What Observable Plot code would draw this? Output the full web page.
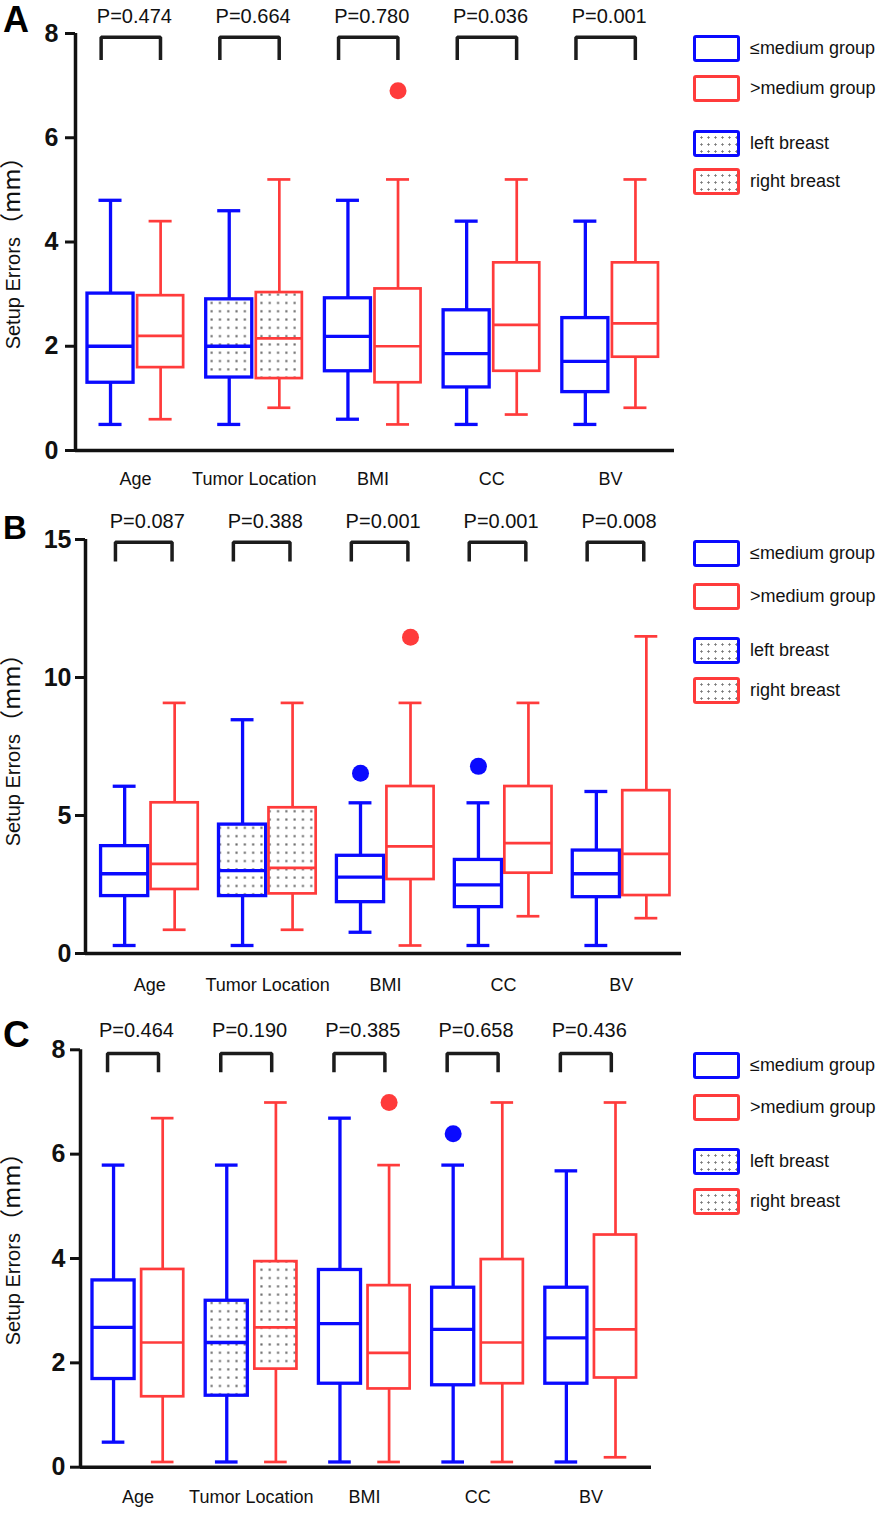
<!DOCTYPE html>
<html><head><meta charset="utf-8">
<script src="https://cdn.jsdelivr.net/npm/d3@7"></script>
<script src="https://cdn.jsdelivr.net/npm/@observablehq/plot@0.6"></script>
<style>
body{margin:0;background:#fff;font-family:"Liberation Sans",Arial,sans-serif;color:#111;}
#root{position:relative;width:896px;height:1513px;overflow:hidden;}
.panel{position:absolute;left:0;width:896px;}
.panel svg.plt{position:absolute;left:0;top:0;overflow:visible}
.legend{position:absolute;left:693px;top:0;}
.lg{position:absolute;left:0;width:47px;height:27px;box-sizing:border-box;border-radius:3px;background:#fff}
.lt{position:absolute;left:57px;height:27px;line-height:27px;font-size:18px;white-space:nowrap;}
</style>
</head><body>
<svg width="0" height="0" style="position:absolute">
  <defs>
    <pattern id="dots" patternUnits="userSpaceOnUse" width="8.3" height="8.3">
      <rect width="8.3" height="8.3" fill="#fff"/>
      <rect x="3.1" y="3.1" width="2.1" height="2.1" fill="#666"/>
    </pattern>
  </defs>
</svg>
<div id="root"></div>
<script>
// ---------- data ----------
const categories = ["Age", "Tumor Location", "BMI", "CC", "BV"];
const groupLegend = ["≤medium group", ">medium group"];
const locationLegend = ["left breast", "right breast"];

// each entry: [min, Q1, median, Q3, max]
const pValuesA = ["P=0.474", "P=0.664", "P=0.780", "P=0.036", "P=0.001"];
const lowA  = [[0.5,1.3,2.0,3.01,4.8],[0.5,1.4,2.0,2.9,4.6],[0.6,1.52,2.19,2.92,4.8],[0.5,1.21,1.86,2.69,4.4],[0.5,1.12,1.71,2.54,4.4]];
const highA = [[0.6,1.59,2.2,2.97,4.4],[0.82,1.38,2.15,3.03,5.2],[0.5,1.3,2.0,3.1,5.2],[0.69,1.52,2.41,3.6,5.2],[0.82,1.79,2.44,3.6,5.2]];
const outliersA = [["BMI", 1, 6.9]];
const ticksA = [0, 2, 4, 6, 8];

const pValuesB = ["P=0.087", "P=0.388", "P=0.001", "P=0.001", "P=0.008"];
const lowB  = [[0.29,2.08,2.89,3.89,6.06],[0.29,2.08,3.0,4.67,8.47],[0.77,1.86,2.77,3.54,5.46],[0.29,1.68,2.49,3.39,5.46],[0.29,2.04,2.89,3.73,5.87]];
const highB = [[0.86,2.32,3.25,5.46,9.08],[0.86,2.16,3.1,5.28,9.08],[0.29,2.68,3.88,6.05,9.08],[1.35,2.91,4.0,6.05,9.08],[1.28,2.1,3.61,5.9,11.49]];
const outliersB = [["BMI", 0, 6.53], ["BMI", 1, 11.46], ["CC", 0, 6.78]];
const ticksB = [0, 5, 10, 15];

const pValuesC = ["P=0.464", "P=0.190", "P=0.385", "P=0.658", "P=0.436"];
const lowC  = [[0.48,1.69,2.68,3.58,5.79],[0.1,1.37,2.39,3.19,5.79],[0.1,1.6,2.75,3.78,6.69],[0.1,1.57,2.64,3.44,5.79],[0.1,1.6,2.48,3.44,5.68]];
const highC = [[0.1,1.35,2.39,3.79,6.69],[0.1,1.88,2.68,3.94,6.99],[0.1,1.5,2.19,3.48,5.79],[0.1,1.6,2.39,3.98,6.99],[0.19,1.71,2.64,4.45,6.99]];
const outliersC = [["BMI", 1, 6.99], ["CC", 0, 6.39]];
const ticksC = [0, 2, 4, 6, 8];

// ---------- styling / layout ----------
const colors = ["#0a0aff", "#ff3b3b"];
const widths = [3.3, 2.7];
const layouts = [
  {letter:"A", lsize:36, lbase:32, top:0, height:500, width:674, ml:75, mt:33, mb:50, xdom:[-0.506,4.54], ymax:8,
   half:0.194, off:0.211, cap:0.097, brL:-0.29, brR:0.21, brTop:7.93, brBot:7.49, pY:8.2, ytp:7, xtp:22, ylab:247,
   legendTops:[35,75,130,168]},
  {letter:"B", lsize:33, lbase:39, top:500, height:500, width:681, ml:85, mt:39, mb:47, xdom:[-0.544,4.51], ymax:15,
   half:0.2, off:0.212, cap:0.097, brL:-0.29, brR:0.19, brTop:14.9, brBot:14.2, pY:15.43, ytp:4, xtp:25, ylab:244,
   legendTops:[39.5,82.5,136.5,176.5]},
  {letter:"C", lsize:37, lbase:47, top:1000, height:513, width:651, ml:80, mt:49.3, mb:46.3, xdom:[-0.509,4.535], ymax:8,
   half:0.186, off:0.217, cap:0.1, brL:-0.27, brR:0.18, brTop:7.93, brBot:7.57, pY:8.24, ytp:5, xtp:23, ylab:243,
   legendTops:[51.5,93.5,147.5,187.5]}
];

function buildRows(low, high) {
  const rows = [];
  categories.forEach((c, i) => {
    [low[i], high[i]].forEach((s, g) => rows.push({cat:c, i, g, min:s[0], q1:s[1], med:s[2], q3:s[3], max:s[4]}));
  });
  return rows;
}

function makePanel(L, low, high, outliers, pValues, ticks) {
  const rows = buildRows(low, high);
  const pos = d => d.i + (d.g === 0 ? -L.off : L.off);
  const outRows = outliers.map(([c, g, v]) => ({i: categories.indexOf(c), g, v}));
  const brackets = categories.flatMap((c, i) => [
    {i, x: i + L.brL, y: L.brBot}, {i, x: i + L.brL, y: L.brTop},
    {i, x: i + L.brR, y: L.brTop}, {i, x: i + L.brR, y: L.brBot}]);
  const pRows = pValues.map((p, i) => ({i, p}));
  const stroke = d => colors[d.g];
  const sw = d => widths[d.g];

  const plot = Plot.plot({
    width: L.width, height: L.height,
    marginLeft: L.ml, marginTop: L.mt, marginBottom: L.mb, marginRight: 0,
    x: {domain: L.xdom},
    y: {domain: [0, L.ymax]},
    color: {type: "identity"},
    style: {fontFamily: "'Liberation Sans', Arial, sans-serif", background: "transparent", color: "#111", overflow: "visible"},
    marks: [
      Plot.ruleX(rows, {x: pos, y1: "q3", y2: "max", stroke, strokeWidth: sw}),
      Plot.ruleX(rows, {x: pos, y1: "min", y2: "q1", stroke, strokeWidth: sw}),
      Plot.ruleY(rows, {y: "max", x1: d => pos(d) - L.cap, x2: d => pos(d) + L.cap, stroke, strokeWidth: sw}),
      Plot.ruleY(rows, {y: "min", x1: d => pos(d) - L.cap, x2: d => pos(d) + L.cap, stroke, strokeWidth: sw}),
      Plot.rect(rows, {x1: d => pos(d) - L.half, x2: d => pos(d) + L.half, y1: "q1", y2: "q3",
        fill: d => d.cat === "Tumor Location" ? "url(#dots)" : "white", stroke, strokeWidth: sw, strokeLinejoin: "miter"}),
      Plot.ruleY(rows, {y: "med", x1: d => pos(d) - L.half, x2: d => pos(d) + L.half, stroke, strokeWidth: sw}),
      Plot.dot(outRows, {x: d => d.i + (d.g === 0 ? -L.off : L.off), y: "v", r: 8.5, fill: d => colors[d.g], stroke: "none"}),
      Plot.line(brackets, {x: "x", y: "y", z: "i", stroke: "#1c1c1c", strokeWidth: 3.5, strokeLinejoin: "miter", strokeLinecap: "butt"}),
      Plot.text(pRows, {x: d => d.i + (L.brL + L.brR) / 2 + 0.03, y: () => L.pY, text: "p", lineAnchor: "bottom", fontSize: 20, fill: "#111"}),
      Plot.axisY(ticks, {tickSize: 10, tickPadding: L.ytp, tickFormat: d3.format("d"), fontSize: 25, fontWeight: "bold", strokeWidth: 3, label: null, color: "#111"}),
      Plot.axisX(d3.range(categories.length), {tickFormat: i => categories[i], tickSize: 0, tickPadding: L.xtp, fontSize: 18, label: null, color: "#111"}),
      Plot.ruleY([0], {strokeWidth: 3.5, stroke: "#111"}),
      Plot.ruleX([L.xdom[0]], {y1: 0, y2: L.ymax, strokeWidth: 3.5, stroke: "#111"})
    ]
  });
  plot.classList.add("plt");
  const svg = d3.select(plot);
  svg.append("text").attr("x", 3).attr("y", L.lbase).attr("text-anchor", "start")
    .attr("font-size", L.lsize).attr("font-weight", "bold").attr("fill", "#000").text(L.letter);
  const yl = svg.append("text")
    .attr("transform", `translate(16,${L.ylab}) rotate(-90)`)
    .attr("text-anchor", "middle").attr("dy", "0.35em").attr("fill", "#111")
    .style("font-family", "'Liberation Sans', Arial, 'Noto Sans CJK SC', sans-serif");
  yl.append("tspan").attr("font-size", 20).text("Setup Errors");
  yl.append("tspan").attr("font-size", 24).style("font-family", "'Noto Sans CJK SC', sans-serif").text("（mm）");

  const div = document.createElement("div");
  div.className = "panel";
  div.style.top = L.top + "px";
  div.style.height = L.height + "px";
  div.appendChild(plot);

  const leg = document.createElement("div");
  leg.className = "legend";
  const items = [
    {label: groupLegend[0], c: colors[0], dots: false},
    {label: groupLegend[1], c: colors[1], dots: false},
    {label: locationLegend[0], c: colors[0], dots: true},
    {label: locationLegend[1], c: colors[1], dots: true}
  ];
  items.forEach((it, k) => {
    const b = document.createElement("div");
    b.className = "lg";
    b.style.top = L.legendTops[k] + "px";
    b.style.border = `${k % 2 === 0 ? 3.6 : 3.2}px solid ${it.c}`;
    if (it.dots) {
      b.style.backgroundImage = "radial-gradient(circle, #777 0.9px, transparent 1.3px)";
      b.style.backgroundSize = "7px 7px";
      b.style.backgroundPosition = "2px 1px";
    }
    const t = document.createElement("div");
    t.className = "lt";
    t.style.top = L.legendTops[k] + "px";
    t.textContent = it.label;
    leg.appendChild(b);
    leg.appendChild(t);
  });
  div.appendChild(leg);
  document.getElementById("root").appendChild(div);
}

makePanel(layouts[0], lowA, highA, outliersA, pValuesA, ticksA);
makePanel(layouts[1], lowB, highB, outliersB, pValuesB, ticksB);
makePanel(layouts[2], lowC, highC, outliersC, pValuesC, ticksC);
</script>
</body></html>
